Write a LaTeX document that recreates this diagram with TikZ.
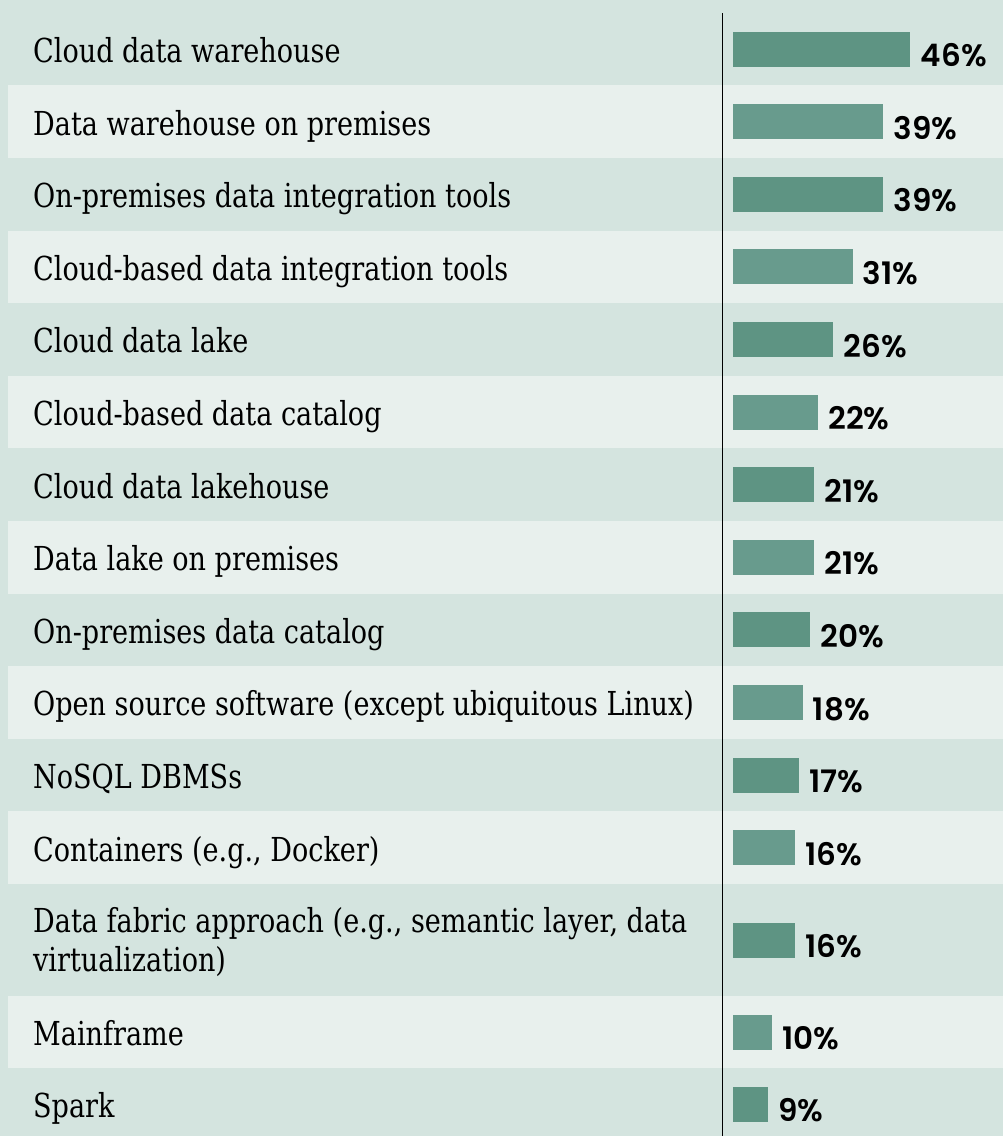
\documentclass[tikz,border=0pt]{standalone}
\usepackage{fontspec}
\setmainfont{DejaVu Serif}[FakeStretch=0.82]
\newfontfamily\pctfont{Poppins}[UprightFont=* SemiBold]
\definecolor{stripedark}{HTML}{D4E4DF}
\definecolor{stripelight}{HTML}{E8F0ED}
\definecolor{bardark}{HTML}{5E9483}
\definecolor{barlight}{HTML}{689B8D}
\begin{document}
\begin{tikzpicture}[x=1pt,y=-1pt,
  rowlabel/.style={anchor=base west, inner sep=0pt, text=black,
    font=\fontsize{33}{38.4}\selectfont},
  barbox/.style={anchor=west, inner sep=0pt, minimum height=35pt},
  pct/.style={anchor=base west, inner sep=0pt, text=black,
    font=\pctfont\fontsize{31}{31}\selectfont}]
  % page background (dark stripes)
  \fill[stripedark] (0,0) rectangle (1003,1136);
  \useasboundingbox (0,0) rectangle (1003,1136);
  % light stripes
  \foreach \c in {121.6,266.8,412,557.2,702.4,847.6}
    \fill[stripelight] (8,\c-36.3) rectangle (1003,\c+36.3);
  \fill[stripelight] (8,995.7) rectangle (1003,1068);
  % rows: index / centre / percent / bar colour / label
  \foreach \i/\c/\p/\k/\t in {
      {1/49/46/bardark/Cloud data warehouse},
      {2/121.6/39/barlight/Data warehouse on premises},
      {3/194.2/39/bardark/On-premises data integration tools},
      {4/266.8/31/barlight/Cloud-based data integration tools},
      {5/339.4/26/bardark/Cloud data lake},
      {6/412/22/barlight/Cloud-based data catalog},
      {7/484.6/21/bardark/Cloud data lakehouse},
      {8/557.2/21/barlight/Data lake on premises},
      {9/629.8/20/bardark/On-premises data catalog},
      {10/702.4/18/barlight/Open source software (except ubiquitous Linux)},
      {11/775/17/bardark/NoSQL DBMSs},
      {12/847.6/16/barlight/Containers (e.g., Docker)},
      {14/1032/10/barlight/Mainframe},
      {15/1104/9/bardark/Spark}} {
    \node[rowlabel] (l\i) at (33,\c+13.5) {\t};
    \node[barbox, fill=\k, minimum width=3.85*\p] (b\i) at (733,\c) {};
    \node[pct] (p\i) at ([xshift=10pt]b\i.south east) {\p\%};
  }
  % two-line row
  \node[rowlabel, anchor=west, align=left] (l13) at (33,942.2)
    {Data fabric approach (e.g., semantic layer, data\\virtualization)};
  \node[barbox, fill=bardark, minimum width=3.85*16] (b13) at (733,940) {};
  \node[pct] (p13) at ([xshift=10pt]b13.south east) {16\%};
  % axis line
  \coordinate (axtop) at (722.3,13);
  \coordinate (axbot) at (722.3,1136);
  \draw[line width=1.3pt] (axtop) -- (axbot);
\end{tikzpicture}
\end{document}
